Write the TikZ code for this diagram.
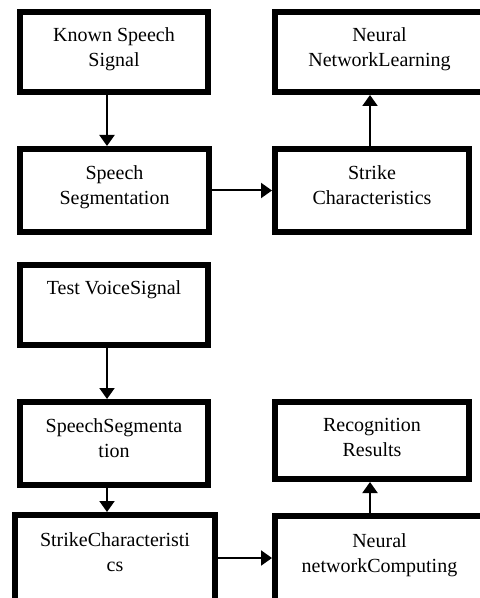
\documentclass[tikz,border=0pt]{standalone}
\usepackage{fontspec}
\setmainfont{Liberation Serif}
\usetikzlibrary{arrows.meta}
\begin{document}
\begin{tikzpicture}[x=0.5pt,y=-0.5pt,
  boxstyle/.style={draw=black, line width=3pt, inner sep=0pt, fill=white},
  txt/.style={align=center, inner sep=0pt, anchor=north, font=\fontsize{10pt}{12.5pt}\selectfont},
  arr/.style={draw=black, line width=1pt, -{Triangle[length=5.5pt,width=7.5pt]}}]
\useasboundingbox (0,0) rectangle (480,598);
\clip (0,0) rectangle (480,598);
\fill[white] (0,0) rectangle (480,598);
\coordinate (ax) at (107,0);
\coordinate (bx) at (370,0);
% boxes
\node[boxstyle, minimum width=94pt,   minimum height=40pt]   (b1) at (114,52) {};
\node[boxstyle, minimum width=104.5pt,minimum height=40pt]   (b2) at (379.5,52) {};
\node[boxstyle, minimum width=94.5pt, minimum height=41.5pt] (b3) at (114.5,190.5) {};
\node[boxstyle, minimum width=97pt,   minimum height=41.5pt] (b4) at (372,190.5) {};
\node[boxstyle, minimum width=94pt,   minimum height=40pt]   (b5) at (114,305) {};
\node[boxstyle, minimum width=94pt,   minimum height=41.5pt] (b6) at (114,443.5) {};
\node[boxstyle, minimum width=97pt,   minimum height=38.5pt] (b7) at (372,440.5) {};
\node[boxstyle, minimum width=100pt,  minimum height=43pt]   (b8) at (115,558) {};
\node[boxstyle, minimum width=104.5pt,minimum height=42.5pt] (b9) at (379.5,558.5) {};
% texts
\node[txt] (t1) at ([yshift=-9.25pt]b1.north) {Known Speech\\Signal};
\node[txt] (t2) at ([yshift=-9.25pt]b2.north) {Neural\\NetworkLearning};
\node[txt] (t3) at ([yshift=-9.5pt]b3.north) {Speech\\Segmentation};
\node[txt] (t4) at ([yshift=-9.5pt]b4.north) {Strike\\Characteristics};
\node[txt] (t5) at ([yshift=-9pt]b5.north) {Test VoiceSignal};
\node[txt] (t6) at ([yshift=-9.5pt]b6.north) {SpeechSegmenta\\tion};
\node[txt] (t7) at ([yshift=-9.5pt]b7.north) {Recognition\\Results};
\node[txt] (t8) at ([yshift=-10.25pt]b8.north) {StrikeCharacteristi\\cs};
\node[txt] (t9) at ([yshift=-10.25pt]b9.north) {Neural\\networkComputing};
% arrows
\draw[arr] (b1.south -| ax) -- (b3.north -| ax);
\draw[arr] (b3.east) -- (b4.west);
\draw[arr] (b4.north -| bx) -- (b2.south -| bx);
\draw[arr] (b5.south -| ax) -- (b6.north -| ax);
\draw[arr] (b6.south -| ax) -- (b8.north -| ax);
\draw[arr] (b8.east) -- (b9.west |- b8.east);
\draw[arr] (b9.north -| bx) -- (b7.south -| bx);
\end{tikzpicture}
\end{document}
